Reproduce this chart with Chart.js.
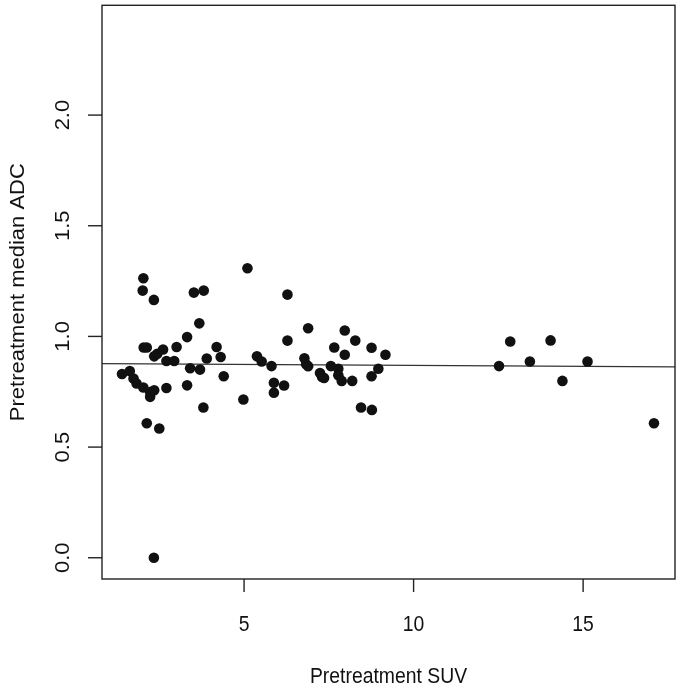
<!DOCTYPE html>
<html>
<head>
<meta charset="utf-8">
<script src="https://cdn.jsdelivr.net/npm/chart.js@4.4.1/dist/chart.umd.min.js"></script>
<style>
  html, body { margin: 0; padding: 0; background: #fff; }
  #wrap { width: 682px; height: 690px; }
</style>
</head>
<body>
<div id="wrap"><canvas id="c" width="682" height="690"></canvas></div>
<script>
/* ---- data ---- */
const SUV = [1.40,1.63,1.74,1.83,2.03,2.03,2.01,2.04,2.13,2.13,2.23,2.23,2.34,2.35,2.35,2.34,2.44,2.50,2.61,2.71,
             2.71,2.94,3.01,3.32,3.32,3.41,3.52,3.68,3.70,3.80,3.81,3.90,4.19,4.31,4.40,4.98,5.10,5.38,5.52,5.81,
             5.88,5.88,6.18,6.28,6.28,6.78,6.83,6.89,6.89,7.24,7.30,7.36,7.56,7.66,7.78,7.78,7.88,7.97,7.97,8.19,
             8.28,8.45,8.76,8.76,8.77,8.96,9.17,12.52,12.85,13.43,14.04,14.39,15.13,17.09];
const ADC = [0.830,0.844,0.810,0.787,0.769,1.263,1.207,0.950,0.950,0.608,0.749,0.727,1.165,0.910,0.757,0.000,0.922,0.584,0.941,0.889,
             0.767,0.889,0.952,0.997,0.779,0.856,1.198,1.059,0.850,0.679,1.207,0.900,0.952,0.907,0.820,0.715,1.308,0.910,0.887,0.866,
             0.791,0.746,0.778,1.189,0.981,0.901,0.874,0.865,1.037,0.835,0.817,0.812,0.866,0.950,0.854,0.824,0.799,1.027,0.917,0.799,
             0.981,0.679,0.949,0.820,0.668,0.854,0.917,0.866,0.977,0.887,0.982,0.799,0.887,0.608];
// fitted line, two ends as seen at the plot edges
const FIT_X = [0.81, 17.71];
const FIT_Y = [0.877, 0.862];

const X_TICKS = [5, 10, 15];
const Y_TICKS = [0, 0.5, 1.0, 1.5, 2.0];
const X_TITLE = 'Pretreatment SUV';
const Y_TITLE = 'Pretreatment median ADC';

const INK  = '#111111';
const FONT = '"Liberation Sans", Arial, sans-serif';
const SQUEEZE = 0.88;   // reference text is a bit narrow for its height

/* R-style frame, ticks and labels drawn from the chart scales */
const rAxesPlugin = {
    id: 'rAxes',
    afterDraw(chart) {
        const { ctx, chartArea: a } = chart;
        const xs = chart.scales.x, ys = chart.scales.y;
        ctx.save();
        ctx.strokeStyle = '#222';
        ctx.lineWidth = 1.4;
        ctx.strokeRect(a.left, a.top, a.right - a.left, a.bottom - a.top);

        ctx.fillStyle = INK;
        ctx.font = '22px ' + FONT;
        ctx.textAlign = 'center';
        ctx.textBaseline = 'middle';

        const hText = (s, x, y) => {
            ctx.save();
            ctx.translate(x, y);
            ctx.scale(SQUEEZE, 1);
            ctx.fillText(s, 0, 0);
            ctx.restore();
        };
        const vText = (s, x, y) => {
            ctx.save();
            ctx.translate(x, y);
            ctx.rotate(-Math.PI / 2);
            ctx.scale(1, SQUEEZE);
            ctx.fillText(s, 0, 0);
            ctx.restore();
        };

        // x ticks
        X_TICKS.forEach(v => {
            const px = xs.getPixelForValue(v);
            ctx.beginPath();
            ctx.moveTo(px, a.bottom);
            ctx.lineTo(px, a.bottom + 13);
            ctx.stroke();
            hText(String(v), px, 625);
        });

        // y ticks (labels parallel to axis)
        Y_TICKS.forEach(v => {
            const py = ys.getPixelForValue(v);
            ctx.beginPath();
            ctx.moveTo(a.left, py);
            ctx.lineTo(a.left - 14, py);
            ctx.stroke();
            vText(v.toFixed(1), 64, py);
        });

        // titles
        hText(X_TITLE, (a.left + a.right) / 2, 677);
        vText(Y_TITLE, 19, (a.top + a.bottom) / 2);
        ctx.restore();
    },
};

new Chart(document.getElementById('c').getContext('2d'), {
    type: 'scatter',
    plugins: [rAxesPlugin],
    data: {
        datasets: [
            {
                label: 'fit',
                type: 'line',
                data: FIT_X.map((x, i) => ({ x, y: FIT_Y[i] })),
                borderColor: '#333',
                borderWidth: 1.2,
                pointRadius: 0,
                fill: false,
                order: 2,
            },
            {
                label: 'patients',
                data: SUV.map((x, i) => ({ x, y: ADC[i] })),
                backgroundColor: INK,
                borderColor: INK,
                borderWidth: 0,
                pointRadius: 5.3,
                order: 1,
            },
        ],
    },
    options: {
        responsive: false,
        animation: false,
        layout: { padding: { left: 102, right: 7, top: 5, bottom: 111 } },
        plugins: { legend: { display: false }, tooltip: { enabled: false } },
        scales: {
            x: { type: 'linear', min: 0.81, max: 17.71, display: false },
            y: { type: 'linear', min: -0.096, max: 2.496, display: false },
        },
    },
});
</script>
</body>
</html>
